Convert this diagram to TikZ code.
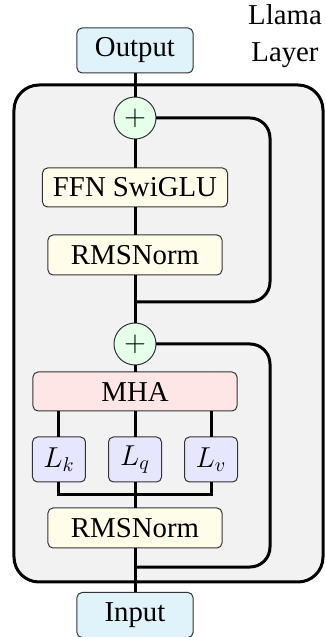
\documentclass[tikz,border=0pt]{standalone}
\usepackage{fontspec}
\setmainfont{Liberation Serif}
\usetikzlibrary{arrows.meta,positioning,calc,backgrounds}
\definecolor{ioblue}{RGB}{224,243,250}
\definecolor{normyellow}{RGB}{255,252,234}
\definecolor{mhared}{RGB}{255,230,230}
\definecolor{linlav}{RGB}{230,230,255}
\definecolor{addgreen}{RGB}{230,255,234}
\definecolor{layergray}{RGB}{242,242,242}
\tikzset{
  blk/.style     = {rectangle, rounded corners=2.5pt, draw=black!80, line width=0.5pt,
                    align=center, font=\fontsize{14.4}{17}\selectfont, inner sep=2pt,
                    outer sep=0pt},
  iobox/.style   = {blk, fill=ioblue, minimum width=58pt, minimum height=22.5pt},
  normbox/.style = {blk, fill=normyellow, minimum width=87pt, minimum height=20pt},
  ffnbox/.style  = {blk, fill=normyellow, minimum width=92.5pt, minimum height=19.5pt},
  mhabox/.style  = {blk, fill=mhared, minimum width=102pt, minimum height=19.5pt},
  linbox/.style  = {blk, fill=linlav, minimum width=26.5pt, minimum height=22.5pt},
  addnode/.style = {circle, draw=black!80, line width=0.5pt, fill=addgreen, outer sep=0pt,
                    minimum size=21pt, inner sep=0pt, font=\fontsize{14.4}{17}\selectfont},
  conn/.style    = {line width=1.5pt},
  layerbg/.style = {draw, line width=1.5pt, fill=layergray, rounded corners=12.5pt},
}
\begin{document}
\begin{tikzpicture}[node distance=13pt and 11.5pt]
  \useasboundingbox (-67.5pt,-11pt) rectangle (95.5pt,307.5pt);
  % attention half
  \node[iobox] (in) at (0,0) {Input};
  \node[normbox, above=22.25pt of in] (rms1) {RMSNorm};
  \node[linbox, above=of rms1] (lq) {$L_q$};
  \node[linbox, left=of lq] (lk) {$L_k$};
  \node[linbox, right=of lq] (lv) {$L_v$};
  \node[mhabox, above=of lq] (mha) {MHA};
  \node[addnode, above=3.5pt of mha] (add1) {$+$};
  % feed-forward half
  \node[normbox, above=24pt of add1] (rms2) {RMSNorm};
  \node[ffnbox, above=14pt of rms2] (ffn) {FFN SwiGLU};
  \node[addnode, above=14.5pt of ffn] (add2) {$+$};
  \node[iobox, above=12pt of add2] (out) {Output};
  \node[font=\fontsize{14.4}{18.5}\selectfont, align=center, inner sep=0pt]
    (title) at (75pt,289.25pt) {Llama\\Layer};
  \coordinate (jn) at ($(rms1.north)!0.5!(lq.south)$);
  \coordinate (br1) at ($(in.north)!0.573!(rms1.south)$);
  \coordinate (br2) at ($(add1.north)!0.44!(rms2.south)$);
  % main path
  \draw[conn] (in) -- (rms1);
  \draw[conn] (rms1) -- (jn) -- (lq);
  \draw[conn] (lk) |- (jn) -| (lv);
  \draw[conn] (lk) -- (lk |- mha.south);
  \draw[conn] (lq) -- (mha);
  \draw[conn] (lv) -- (lv |- mha.south);
  \draw[conn] (mha) -- (add1);
  \draw[conn] (add1) -- (rms2);
  \draw[conn] (rms2) -- (ffn);
  \draw[conn] (ffn) -- (add2);
  \draw[conn] (add2) -- (out);
  % residuals
  \draw[conn, rounded corners=10pt] (br1) -- ++(67.5pt,0) |- (add1.east);
  \draw[conn, rounded corners=10pt] (br2) -- ++(67.5pt,0) |- (add2.east);
  \begin{scope}[on background layer]
    \draw[layerbg] (-60.5pt,16.5pt) rectangle (94pt,265pt);
  \end{scope}
\end{tikzpicture}
\end{document}
